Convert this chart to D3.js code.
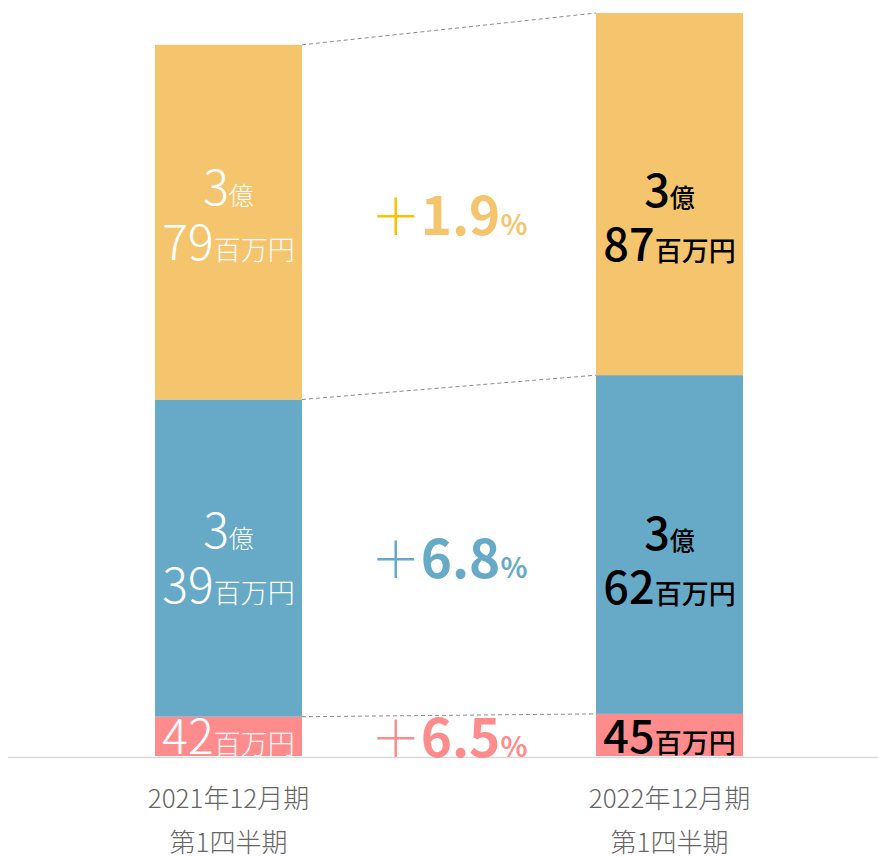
<!DOCTYPE html>
<html>
<head>
<meta charset="utf-8">
<script src="https://cdn.jsdelivr.net/npm/d3@7"></script>
<style>
  body { margin: 0; background: #fff; }
  svg text { font-family: "Noto Sans CJK JP", "Noto Sans", sans-serif; }
</style>
</head>
<body>
<div class="svgcontainer"></div>
<script>
// 百万円
const periods = ["2021年12月期", "2022年12月期"];
const periodSub = ["第1四半期", "第1四半期"];
const segments = ["pink", "blue", "orange"];
const values2021 = [42, 339, 379];
const values2022 = [45, 362, 387];
const growthNum = ["6.5", "6.8", "1.9"];
const colors = { pink: "#ff8c8c", blue: "#66aac8", orange: "#f5c56e" };
const plusColors = { pink: "#ff8c8c", blue: "#66aac8", orange: "#ffc000" };

const W = 878, H = 858;
const svg = d3.select('.svgcontainer')
  .append('svg')
  .attr('width', W)
  .attr('height', H);

const x = d3.scaleBand().domain(periods).range([155, 743]).paddingInner(2 / 3);
const totals = [d3.sum(values2021), d3.sum(values2022)];
const y = d3.scaleLinear().domain([0, d3.max(totals)]).range([756, 13]);

const series = [values2021, values2022];
const stacks = series.map(vals => {
  let acc = 0;
  return vals.map((v, i) => { const s = { key: segments[i], v: v, y0: acc, y1: acc + v }; acc += v; return s; });
});

// bars
stacks.forEach(function(st, j) {
  svg.selectAll('.bar' + j)
    .data(st)
    .enter()
    .append('rect')
    .attr('x', x(periods[j]))
    .attr('width', x.bandwidth())
    .attr('y', d => y(d.y1))
    .attr('height', d => y(d.y0) - y(d.y1))
    .attr('fill', d => colors[d.key]);
});

// axis line
svg.append('line')
  .attr('x1', 8).attr('x2', W)
  .attr('y1', y(0) + 1.5).attr('y2', y(0) + 1.5)
  .attr('stroke', '#d9d9d9').attr('stroke-width', 1.5);

// dashed connectors
segments.forEach(function(k, i) {
  svg.append('line')
    .attr('x1', x(periods[0]) + x.bandwidth())
    .attr('y1', y(stacks[0][i].y1))
    .attr('x2', x(periods[1]))
    .attr('y2', y(stacks[1][i].y1))
    .attr('stroke', '#8c8c8c')
    .attr('stroke-width', 1)
    .attr('stroke-dasharray', '4,3');
});

// value labels
function addLabel(cx, base, v, big, fill, weight) {
  const oku = Math.floor(v / 100), rest = v % 100;
  if (oku > 0) {
    const t1 = svg.append('text').attr('x', cx).attr('y', base[0])
      .attr('text-anchor', 'middle').attr('fill', fill).attr('font-weight', weight);
    t1.append('tspan').attr('font-size', big).text(oku);
    t1.append('tspan').attr('font-size', 25).text('億');
  }
  const t2 = svg.append('text').attr('x', cx).attr('y', oku > 0 ? base[1] : base[2])
    .attr('text-anchor', 'middle').attr('fill', fill).attr('font-weight', weight);
  t2.append('tspan').attr('font-size', big).text(rest);
  t2.append('tspan').attr('font-size', 27).text('百万円');
}

segments.forEach(function(k, i) {
  const mid = (y((stacks[0][i].y0 + stacks[0][i].y1) / 2) + y((stacks[1][i].y0 + stacks[1][i].y1) / 2)) / 2;
  const base = [mid - 3, mid + 52, y(stacks[0][i].y0) - 2];
  addLabel(x(periods[0]) + x.bandwidth() / 2, base, series[0][i], 48, '#fff', 300);
  addLabel(x(periods[1]) + x.bandwidth() / 2, [base[0] + 2, base[1] + 1, y(stacks[1][i].y0) - 3], series[1][i], 45, '#000', 500);

  // growth
  const gx = (x(periods[0]) + x.bandwidth() + x(periods[1])) / 2;
  const gy = k === 'pink' ? y(0) + 1 : mid + 27;
  const g = svg.append('text').attr('x', gx).attr('y', gy)
    .attr('text-anchor', 'middle').attr('fill', colors[k]);
  g.append('tspan').attr('font-size', 50).attr('font-weight', 300).attr('fill', plusColors[k]).text('＋');
  g.append('tspan').attr('font-size', 53).attr('font-weight', 700).text(growthNum[i]);
  g.append('tspan').attr('font-size', 28).attr('font-weight', 700).text('%');
});

// category labels
periods.forEach(function(p, j) {
  const cx = x(p) + x.bandwidth() / 2;
  svg.append('text').attr('x', cx).attr('y', 808)
    .attr('text-anchor', 'middle').attr('font-size', 26).attr('font-weight', 300).attr('fill', '#666').text(p);
  svg.append('text').attr('x', cx).attr('y', 852)
    .attr('text-anchor', 'middle').attr('font-size', 26).attr('font-weight', 300).attr('fill', '#666').text(periodSub[j]);
});
</script>
</body>
</html>
